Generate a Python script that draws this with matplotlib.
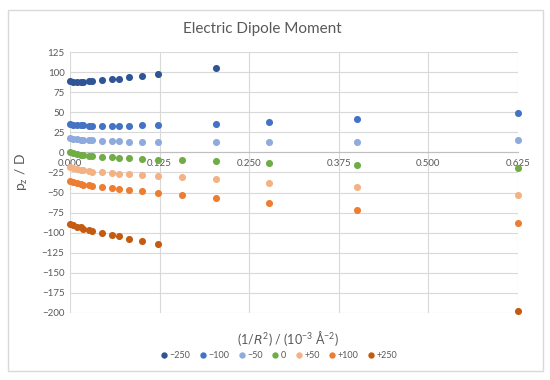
import numpy as np
import matplotlib
matplotlib.use("Agg")
import matplotlib.pyplot as plt
from matplotlib.patches import Rectangle

# x = 1/R^2 in 10^-3 A^-2
x = [0.000, 0.004, 0.010, 0.015, 0.018, 0.026, 0.031, 0.044, 0.059, 0.069,
     0.083, 0.100, 0.123, 0.156, 0.204, 0.278, 0.400, 0.625]
nan = np.nan

m250 = [89, 88, 88, 88, 88, 88.5, 89, 90, 91, 92, 93.5, 95, 97.5,
        nan, 105.5, nan, nan, nan]
m100 = [35.5, 34.5, 34, 33.5, 33.5, 33, 33, 33, 33, 33, 33, 33.5, 34,
        nan, 35.7, 37.8, 41, 49]
m50 = [18, 17, 16.5, 16, 15.5, 15, 15, 14.5, 14, 14, 13.5, 13.5, 13.5,
       nan, 13, 13, 13.3, 15]
zero = [0, -1, -2, -3, -3.5, -4, -4.5, -5.5, -6, -6.5, -7, -8, -9,
        -9.5, -11.2, -12.9, -15.8, -19.5]
p50 = [-18, -19.5, -20.5, -21.5, -22, -23.5, -24.5, -25, -26, -26.5, -27.5,
       -28, -29, -31, -33.6, -37.8, -43.2, -53.2]
p100 = [-35.5, -37, -38.5, -39.5, -40, -41, -41.5, -43, -44.5, -45.5, -47,
        -48.5, -50.5, -53, -57, -62.7, -71.8, -87.6]
p250 = [-89.5, -91, -92.5, -93.5, -95, -96.5, -97.5, -100, -102.5, -104.5,
        -107.5, -110.5, -114, nan, nan, nan, nan, -197]

labels = ["\u2212250", "\u2212100", "\u221250", "0", "+50", "+100", "+250"]
series = [m250, m100, m50, zero, p50, p100, p250]
colors = ["#2F5597", "#4472C4", "#8FAADC", "#70AD47", "#F4B183", "#ED7D31", "#C55A11"]

plt.rcParams['font.family'] = ['Lato', 'DejaVu Sans']
plt.rcParams['mathtext.default'] = 'regular'
grey = "#595959"

fig = plt.figure(figsize=(5.5, 3.8), dpi=100)
ax = fig.add_axes([70 / 550, 1 - 313 / 380, 448 / 550, 261 / 380])

for ys, lab, c in zip(series, labels, colors):
    ax.scatter(x, ys, s=26, color=c, label=lab, clip_on=False, zorder=3, linewidths=0)

ax.set_xlim(0, 0.625)
ax.set_ylim(-200, 125)
ax.set_xticks(np.arange(0, 0.626, 0.125))
ax.set_yticks(np.arange(-200, 126, 25))
ax.xaxis.set_major_formatter(matplotlib.ticker.FormatStrFormatter('%.3f'))
ax.grid(True, color="#D9D9D9", linewidth=0.8, zorder=0)
ax.set_axisbelow(True)
for s in ["top", "right", "left"]:
    ax.spines[s].set_visible(False)
ax.spines["bottom"].set_position(("data", 0))
ax.spines["bottom"].set_color("#BFBFBF")
ax.tick_params(length=0, labelsize=7, labelcolor=grey, pad=4)
ax.tick_params(axis='x', pad=5)

ax.set_ylabel("p$_z$ / D", fontsize=10, color=grey)
ax.yaxis.set_label_coords(-0.089, 0.54)
ax.set_xlabel("(1/$\\mathit{R}^2$) / (10$^{-3}$ Å$^{-2}$)", fontsize=9, color=grey)
ax.xaxis.set_label_coords(0.487, -0.061)

fig.text(262 / 550, 1 - 29 / 380, "Electric Dipole Moment", ha="center", va="center",
         fontsize=11, color=grey)

fig.legend(loc="center", bbox_to_anchor=(277 / 550, 1 - 355 / 380), ncol=7,
           frameon=False, fontsize=6.5, handletextpad=-0.2, columnspacing=0.6,
           handlelength=1.6, markerscale=0.9, labelcolor=grey)

fig.add_artist(Rectangle((8 / 550, 1 - 371 / 380), 535 / 550, 361 / 380,
                         transform=fig.transFigure, fill=False,
                         edgecolor="#D9D9D9", linewidth=1))

fig.savefig("out.png", dpi=100)
